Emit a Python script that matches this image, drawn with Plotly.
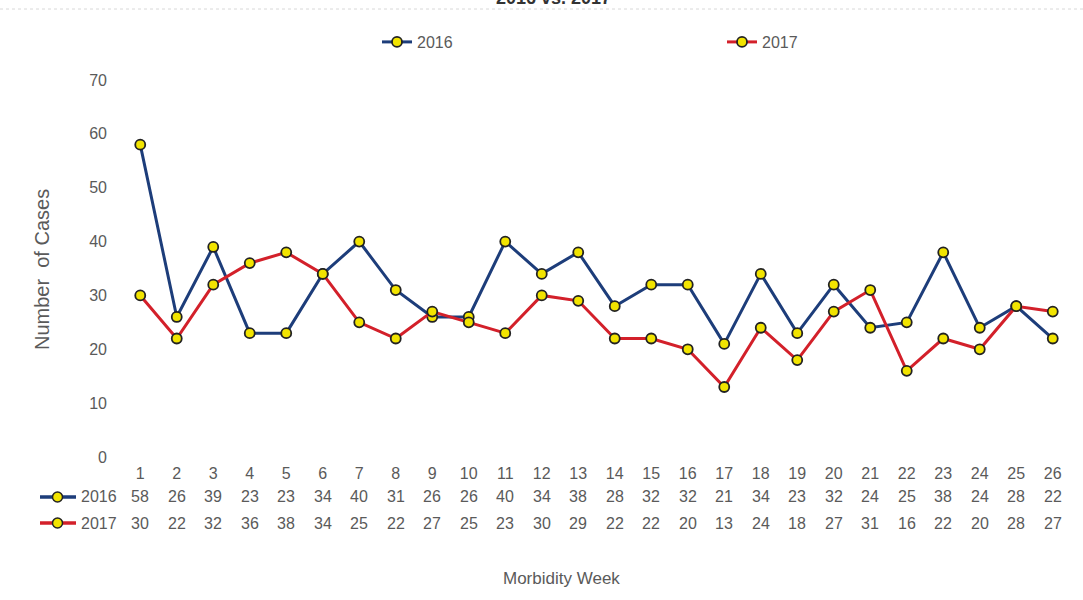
import plotly.graph_objects as go

# Weekly case counts, morbidity weeks 1-26
weeks = list(range(1, 27))
cases_2016 = [58, 26, 39, 23, 23, 34, 40, 31, 26, 26, 40, 34, 38, 28, 32, 32, 21, 34, 23, 32, 24, 25, 38, 24, 28, 22]
cases_2017 = [30, 22, 32, 36, 38, 34, 25, 22, 27, 25, 23, 30, 29, 22, 22, 20, 13, 24, 18, 27, 31, 16, 22, 20, 28, 27]
series_names = ["2016", "2017"]
y_ticks = [0, 10, 20, 30, 40, 50, 60, 70]

W, H = 1083, 600
L, R, T, B = 122, 12, 80, 143
PW, PH = W - L - R, H - T - B

NAVY = "#1d3d7a"
RED = "#d3202a"
YELLOW = "#f2e400"
TEXT = "#5a5a5a"
FONT = "Liberation Sans, Arial, sans-serif"


def px_x(px):
    return (px - L) / PW


def px_y(py):
    return (H - B - py) / PH


fig = go.Figure()
for name, vals, col in [(series_names[0], cases_2016, NAVY), (series_names[1], cases_2017, RED)]:
    fig.add_trace(go.Scatter(
        x=weeks, y=vals, name=name, mode="lines+markers",
        line=dict(color=col, width=3),
        marker=dict(size=10, color=YELLOW, line=dict(color="#222222", width=1.8)),
    ))

annotations = []
shapes = []

# data table rows beneath the axis
for row_py, name, vals, col in [(497, series_names[0], cases_2016, NAVY), (523, series_names[1], cases_2017, RED)]:
    for wk, v in zip(weeks, vals):
        annotations.append(dict(x=wk, y=px_y(row_py), xref="x", yref="paper", text=str(v),
                                showarrow=False, xanchor="center", yanchor="middle",
                                font=dict(size=16, color=TEXT, family=FONT)))
    annotations.append(dict(x=px_x(79), y=px_y(row_py), xref="paper", yref="paper", text=name,
                            showarrow=False, xanchor="left", yanchor="middle",
                            font=dict(size=16, color=TEXT, family=FONT)))
    shapes.append(dict(type="line", xref="paper", yref="paper",
                       x0=px_x(40), x1=px_x(76), y0=px_y(row_py), y1=px_y(row_py),
                       line=dict(color=col, width=3.5)))
    shapes.append(dict(type="circle", xref="paper", yref="paper",
                       x0=px_x(52.5), x1=px_x(62.5), y0=px_y(row_py + 5), y1=px_y(row_py - 5),
                       fillcolor=YELLOW, line=dict(color="#222222", width=1.5)))

# chart title, partly above the page edge
annotations.append(dict(x=px_x(553), y=px_y(-2), xref="paper", yref="paper",
                        text="<b>2016 vs. 2017</b>", showarrow=False,
                        xanchor="center", yanchor="middle",
                        font=dict(size=18, color="#333333", family=FONT)))

# y axis title
annotations.append(dict(x=px_x(42), y=px_y(270), xref="paper", yref="paper",
                        text="Number&nbsp;&nbsp;of&nbsp;Cases", textangle=-90, showarrow=False,
                        xanchor="center", yanchor="middle",
                        font=dict(size=20, color=TEXT, family=FONT)))

# x axis title
annotations.append(dict(x=px_x(561), y=px_y(578), xref="paper", yref="paper",
                        text="Morbidity Week", showarrow=False,
                        xanchor="center", yanchor="middle",
                        font=dict(size=17, color=TEXT, family=FONT)))

# faint dotted rule near the top
shapes.append(dict(type="line", xref="paper", yref="paper", x0=px_x(0), x1=px_x(W),
                   y0=px_y(9), y1=px_y(9), line=dict(color="#d8d8d8", width=1, dash="dot")))

fig.update_layout(
    width=W, height=H,
    margin=dict(l=L, r=R, t=T, b=B),
    paper_bgcolor="white", plot_bgcolor="white",
    font=dict(family=FONT, size=16, color=TEXT),
    showlegend=True,
    legend=dict(orientation="h", x=px_x(377), y=px_y(42), xanchor="left", yanchor="middle",
                entrywidth=300, entrywidthmode="pixels",
                font=dict(size=16, color=TEXT, family=FONT), bgcolor="rgba(0,0,0,0)"),
    xaxis=dict(range=[0.5, 26.5], tickmode="array", tickvals=weeks, ticktext=[str(w) for w in weeks],
               showgrid=False, zeroline=False, showline=False, ticks="",
               ticklabelstandoff=5, tickfont=dict(size=16, color=TEXT, family=FONT)),
    yaxis=dict(range=[0, 70], tickmode="array", tickvals=y_ticks,
               showgrid=False, zeroline=False, showline=False, ticks="",
               ticklabelstandoff=14, tickfont=dict(size=16, color=TEXT, family=FONT)),
    annotations=annotations,
    shapes=shapes,
)

fig.write_html("out.html")
